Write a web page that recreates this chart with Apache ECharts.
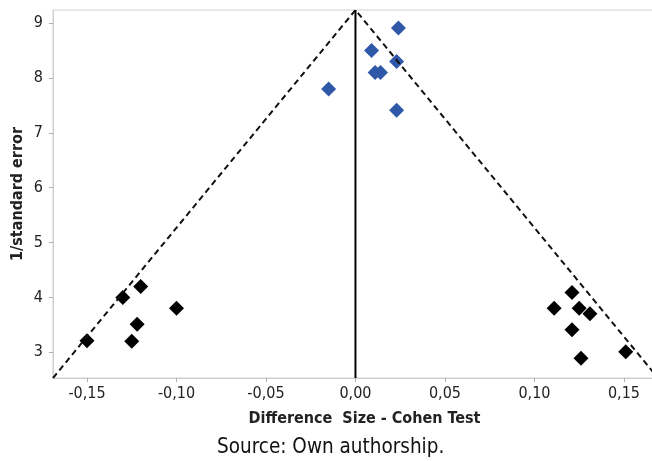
<!DOCTYPE html>
<html lang="en">
<head>
    <meta charset="utf-8">
    <script src="https://cdn.jsdelivr.net/npm/echarts@6/dist/echarts.min.js"></script>
    <style>
        * { margin: 0; padding: 0; }
        body { background: #fff; }
    </style>
</head>
<body>
<div id="main" style="width: 652px; height: 461px;"></div>
<script>
// tick values
var xTicks = [-0.15, -0.10, -0.05, 0.00, 0.05, 0.10, 0.15];
var yTicks = [3, 4, 5, 6, 7, 8, 9];

// studies near the top of the funnel (blue)
var topX = [-0.015, 0.009, 0.024, 0.023, 0.011, 0.014, 0.023];
var topY = [7.80, 8.50, 8.91, 8.30, 8.10, 8.10, 7.41];

// studies at the bottom of the funnel (black)
var lowX = [-0.150, -0.130, -0.120, -0.122, -0.125, -0.100, 0.121, 0.111, 0.125, 0.131, 0.121, 0.126, 0.151];
var lowY = [3.21, 4.00, 4.20, 3.51, 3.20, 3.80, 4.09, 3.80, 3.80, 3.70, 3.41, 2.89, 3.01];

// funnel limits and the pooled effect line
var funnelX = [-0.169, 0, 0.169];
var funnelY = [2.53, 9.24, 2.53];
var centreX = [0, 0];
var centreY = [2.53, 9.24];

function pairs(xs, ys) {
    return xs.map(function (x, i) { return [x, ys[i]]; });
}

var font = "'DejaVu Sans Condensed', 'DejaVu Sans', sans-serif";
var myChart = echarts.init(document.getElementById('main'));

var option = {
    animation: false,
    grid: {
        left: 53, top: 10, right: -2, bottom: 83,
        outerBoundsMode: 'none',
        containLabel: false,
        show: true, borderColor: '#cfcfcf', borderWidth: 1
    },
    xAxis: {
        type: 'value',
        min: -0.169,
        max: 0.1668,
        name: 'Difference  Size - Cohen Test',
        nameLocation: 'middle',
        nameGap: 33,
        nameTextStyle: { fontFamily: font, fontWeight: 'bold', fontSize: 16, color: '#222', padding: [0, 0, 0, 22] },
        splitLine: { show: false },
        axisLine: { onZero: false, lineStyle: { color: '#cfcfcf' } },
        axisTick: { customValues: xTicks, length: 4, lineStyle: { color: '#b0b0b0' } },
        axisLabel: {
            customValues: xTicks,
            margin: 8,
            fontFamily: font, fontSize: 16, color: '#222',
            formatter: function (v) { return v.toFixed(2).replace('.', ','); }
        }
    },
    yAxis: {
        type: 'value',
        min: 2.53,
        max: 9.24,
        name: '1/standard error',
        nameLocation: 'middle',
        nameGap: 27,
        nameMoveOverlap: false,
        nameTextStyle: { fontFamily: font, fontWeight: 'bold', fontSize: 16, color: '#222' },
        splitLine: { show: false },
        axisLine: { show: true, onZero: false, lineStyle: { color: '#cfcfcf' } },
        axisTick: { show: true, customValues: yTicks, length: 4, lineStyle: { color: '#b0b0b0' } },
        axisLabel: {
            customValues: yTicks,
            margin: 10,
            fontFamily: font, fontSize: 16, color: '#222'
        }
    },
    graphic: [{
        type: 'text',
        left: 217,
        top: 437,
        style: {
            text: 'Source: Own authorship.',
            font: "20.5px 'DejaVu Sans Condensed', 'DejaVu Sans', sans-serif",
            fill: '#111'
        }
    }],
    series: [{
        type: 'line',
        data: pairs(funnelX, funnelY),
        symbol: 'none',
        silent: true,
        lineStyle: { color: '#111', width: 2, type: [6, 4] }
    }, {
        type: 'line',
        data: pairs(centreX, centreY),
        symbol: 'none',
        silent: true,
        lineStyle: { color: '#000', width: 2 }
    }, {
        type: 'scatter',
        data: pairs(topX, topY),
        symbol: 'diamond',
        symbolSize: 15,
        itemStyle: { color: '#2f58a8', opacity: 1 }
    }, {
        type: 'scatter',
        data: pairs(lowX, lowY),
        symbol: 'diamond',
        symbolSize: 15,
        itemStyle: { color: '#000', opacity: 1 }
    }]
};

myChart.setOption(option);
</script>
</body>
</html>
